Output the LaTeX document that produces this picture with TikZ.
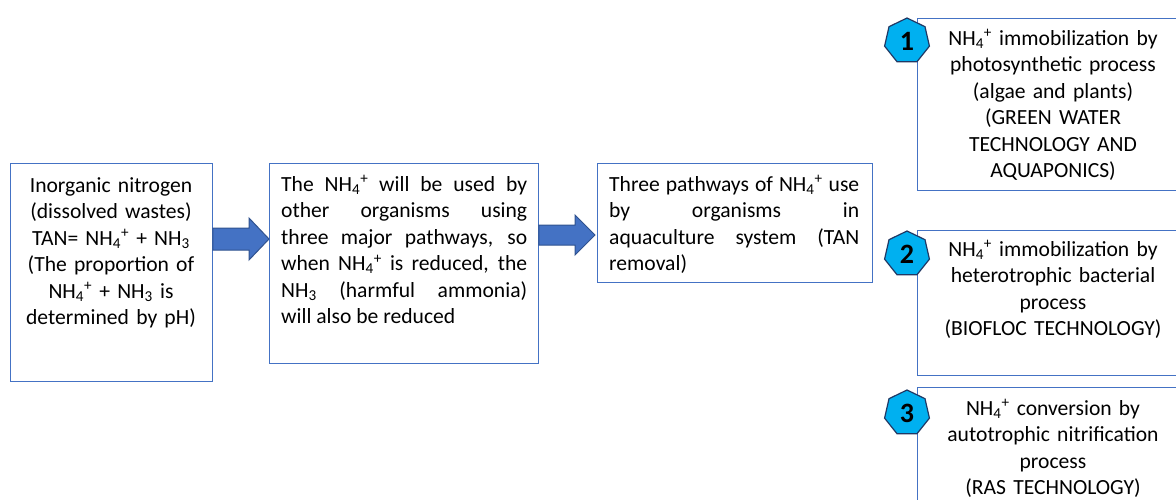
\documentclass[tikz,border=0pt]{standalone}
\usepackage{fontspec}
\setmainfont{Carlito}
\usetikzlibrary{shapes.geometric,calc}
\definecolor{boxblue}{HTML}{4472C4}
\definecolor{arrowline}{HTML}{2F528F}
\definecolor{badgefill}{HTML}{00B0F0}
\definecolor{badgeline}{HTML}{203864}
\newcommand{\NHfour}{NH\textsubscript{4}\textsuperscript{+}}
\newcommand{\NHthree}{NH\textsubscript{3}}

\begin{document}
\begin{tikzpicture}[x=1pt,y=-1pt,
	panel/.style={draw=boxblue, line width=0.8pt, inner sep=0pt, anchor=north west},
	txt/.style={font=\fontsize{21.6}{26.5}\selectfont, inner sep=0pt, anchor=north},
	blockarr/.style={fill=boxblue, draw=arrowline, line width=1pt, line join=miter},
	badge/.style={regular polygon, regular polygon sides=7, minimum size=46pt, inner sep=0pt,
		fill=badgefill, draw=badgeline, line width=1.2pt, font=\fontsize{28}{28}\selectfont\bfseries}]
	\clip (0,0) rectangle (1176,499);
	\node[panel, minimum width=202pt, minimum height=218pt] (inorg) at (10,163) {};
	\node[panel, minimum width=269pt, minimum height=200pt] (uses) at (269,163) {};
	\node[panel, minimum width=275pt, minimum height=119pt] (tpath) at (597,163) {};
	\node[panel, minimum width=275pt, minimum height=172pt] (photo) at (917,18) {};
	\node[panel, minimum width=275pt, minimum height=145pt] (hetero) at (917,230) {};
	\node[panel, minimum width=275pt, minimum height=140pt] (nitri) at (917,387) {};
	\node[txt, text width=200pt, align=center] (inorg-t) at (111,177) {Inorganic nitrogen\\(dissolved wastes)\\TAN= \NHfour{} + \NHthree\\(The proportion of\\\NHfour{} + \NHthree{} is\\determined by pH)};
	\node[txt, text width=246pt, align=justify, anchor=north west] (uses-t) at (281,175) {The \NHfour{} will be used by\linebreak other organisms using\linebreak three major pathways, so\linebreak when \NHfour{} is reduced, the\linebreak \NHthree{} (harmful ammonia)\linebreak will also be reduced};
	\node[txt, text width=250pt, align=justify, anchor=north west] (tpath-t) at (609,175) {Three pathways of \NHfour{} use\linebreak by organisms in\linebreak aquaculture system (TAN\linebreak removal)};
	\node[txt, text width=250pt, align=center] (photo-t) at (1053,29) {\NHfour{} immobilization by\\photosynthetic process\\(algae and plants)\\(GREEN WATER\\TECHNOLOGY AND\\AQUAPONICS)};
	\node[txt, text width=250pt, align=center] (hetero-t) at (1053,240) {\NHfour{} immobilization by\\heterotrophic bacterial\\process\\(BIOFLOC TECHNOLOGY)};
	\node[txt, text width=250pt, align=center] (nitri-t) at (1053,399) {\NHfour{} conversion by\\autotrophic nitrification\\process\\(RAS TECHNOLOGY)};
	\coordinate (a1s) at (inorg.east |- 0,239);
	\coordinate (a1e) at (uses.west |- 0,239);
	\coordinate (a2s) at (uses.east |- 0,235);
	\coordinate (a2e) at ($(tpath.west |- 0,235)+(-2,0)$);
	\draw[blockarr] let \p1=(a1s), \p2=(a1e) in (\x1,\y1+11pt) -- (\x2-20pt,\y1+11pt) -- (\x2-20pt,\y1+21pt) -- (\x2,\y1) -- (\x2-20pt,\y1-21pt) -- (\x2-20pt,\y1-11pt) -- (\x1,\y1-11pt) -- cycle;
	\draw[blockarr] let \p1=(a2s), \p2=(a2e) in (\x1,\y1+10pt) -- (\x2-20pt,\y1+10pt) -- (\x2-20pt,\y1+20pt) -- (\x2,\y1) -- (\x2-20pt,\y1-20pt) -- (\x2-20pt,\y1-10pt) -- (\x1,\y1-10pt) -- cycle;
	\node[badge] (b1) at (907,41) {1};
	\node[badge] (b2) at (907,254) {2};
	\node[badge] (b3) at (907,413) {3};
\end{tikzpicture}
\end{document}
